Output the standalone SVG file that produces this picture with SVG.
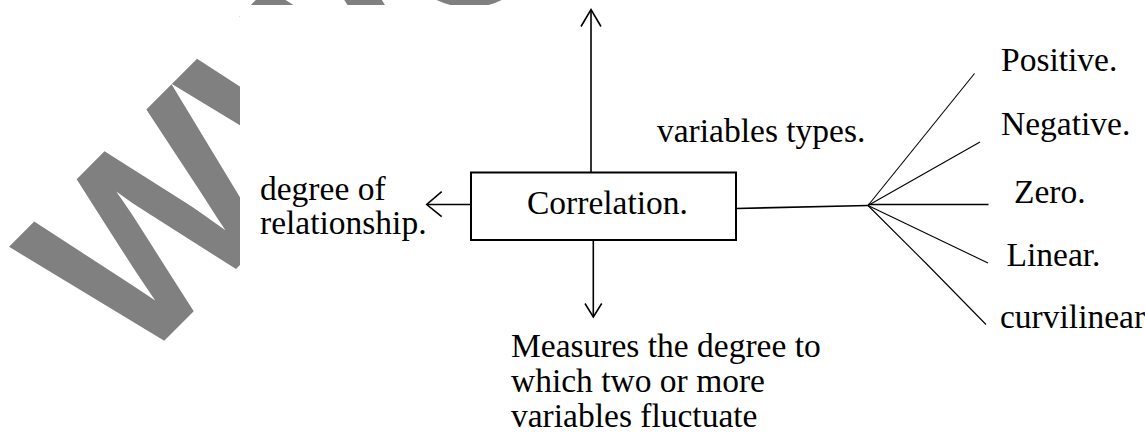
<svg xmlns="http://www.w3.org/2000/svg" width="1145" height="433" viewBox="0 0 1145 433">
<style>
  text{font-family:"Liberation Serif","Times New Roman",serif;font-size:33.5px;fill:#000}
  .wm{font-family:"Liberation Sans",Arial,sans-serif;font-weight:bold;font-size:244px;fill:#808080}
  .box{fill:#fff;stroke:#000;stroke-width:2}
  .ln{fill:none;stroke:#000;stroke-width:1.6}
  .fan{fill:none;stroke:#000;stroke-width:1.1}
</style>
<defs>
  <clipPath id="wmclip">
    <rect x="0" y="0" width="240" height="433"/>
    <rect x="0" y="0" width="1145" height="5"/>
  </clipPath>
</defs>
<rect width="1145" height="433" fill="#fff"/>
<g id="watermark" clip-path="url(#wmclip)">
  <text class="wm" transform="translate(133.5,371.6) rotate(-45) scale(1,1.05)">WWO</text>
</g>
<g id="connectors">
  <line class="ln" x1="591" y1="172.5" x2="591" y2="10"/>
  <polyline class="ln" points="581,26.5 591,9.5 601,26.5"/>
  <line class="ln" x1="470.5" y1="204.5" x2="427.5" y2="204.5"/>
  <polyline class="ln" points="441.7,191.7 426.7,204.5 441.7,216.7"/>
  <line class="ln" x1="593.3" y1="240" x2="593.3" y2="316.5"/>
  <polyline class="ln" points="585,303.5 593.3,317 601.7,303.5"/>
  <line class="ln" x1="736" y1="208.5" x2="868" y2="205.5"/>
  <line class="fan" x1="868" y1="205.5" x2="974.5" y2="73.5"/>
  <line class="fan" x1="868" y1="205.5" x2="980" y2="142"/>
  <line class="ln" x1="868" y1="204.5" x2="988.5" y2="204.5"/>
  <line class="fan" x1="868" y1="205.5" x2="988" y2="263"/>
  <polyline class="fan" points="868,205.5 926.7,264 986,324.5"/>
</g>
<g id="node-correlation">
  <rect class="box" x="471" y="172.5" width="265" height="67.5"/>
  <text x="527" y="214">Correlation.</text>
</g>
<g id="node-degree">
  <text x="260" y="199.5">degree of</text>
  <text x="260" y="234">relationship.</text>
</g>
<g id="node-types">
  <text x="657" y="142">variables types.</text>
</g>
<g id="node-measures">
  <text x="511" y="357">Measures the degree to</text>
  <text x="511" y="392">which two or more</text>
  <text x="511" y="427">variables fluctuate</text>
</g>
<g id="node-positive"><text x="1001" y="71">Positive.</text></g>
<g id="node-negative"><text x="1001" y="135">Negative.</text></g>
<g id="node-zero"><text x="1014" y="203">Zero.</text></g>
<g id="node-linear"><text x="1006.5" y="266">Linear.</text></g>
<g id="node-curvilinear"><text x="1000" y="328">curvilinear</text></g>
</svg>
